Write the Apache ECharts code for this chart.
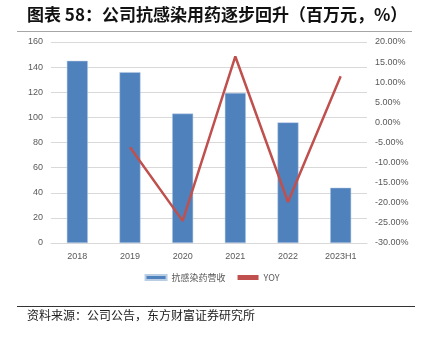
<!DOCTYPE html>
<html>
<head>
<meta charset="utf-8">
<script src="https://cdn.jsdelivr.net/npm/echarts@6/dist/echarts.min.js"></script>
<style>
html,body{margin:0;padding:0;background:#fff;}
#chart{width:424px;height:338px;}
</style>
</head>
<body>
<div id="chart"></div>
<script>
// 抗感染药营收（百万元）与同比增速（%）
const years = ['2018', '2019', '2020', '2021', '2022', '2023H1'];
const revenue = [145, 136, 103, 119.5, 96, 44];
const yoy = [null, -6.2, -24.5, 16.4, -19.8, 11.5];
const leftTicks = { min: 0, max: 160, interval: 20 };
const rightTicks = { min: -30, max: 20, interval: 5 };

const chart = echarts.init(document.getElementById('chart'));
const labelFont = { color: '#595959', fontSize: 9, fontFamily: 'Liberation Sans, Arial, sans-serif' };

chart.setOption({
  animation: false,
  backgroundColor: '#fff',
  graphic: [
    { type: 'text', left: 27, top: 6,
      style: { text: '图表 58：公司抗感染用药逐步回升（百万元，%）', fill: '#111',
               font: 'bold 17px "Noto Sans CJK SC", sans-serif' } },
    { type: 'line', shape: { x1: 17, y1: 31.5, x2: 412, y2: 31.5 },
      style: { stroke: '#a6a6a6', lineWidth: 1 } },
    { type: 'line', shape: { x1: 17, y1: 306.5, x2: 415, y2: 306.5 },
      style: { stroke: '#333', lineWidth: 1 } },
    { type: 'text', left: 27, top: 309,
      style: { text: '资料来源：公司公告，东方财富证券研究所', fill: '#222',
               font: '12px "Noto Sans CJK SC", sans-serif' } }
  ],
  legend: {
    bottom: 51, left: 'center', itemGap: 12, itemWidth: 21, itemHeight: 5,
    textStyle: { color: '#595959', fontSize: 9, fontFamily: '"Noto Sans CJK SC", sans-serif' },
    data: [
      { name: '抗感染药营收', icon: 'rect' },
      { name: 'YOY', icon: 'rect', itemStyle: { color: '#c0504d' } }
    ]
  },
  grid: { left: 51, right: 57, top: 42, bottom: 95 },
  xAxis: {
    type: 'category', data: years,
    axisLine: { lineStyle: { color: '#d9d9d9' } },
    axisTick: { show: false },
    axisLabel: Object.assign({ margin: 9 }, labelFont)
  },
  yAxis: [
    {
      type: 'value', min: leftTicks.min, max: leftTicks.max, interval: leftTicks.interval,
      axisLabel: Object.assign({ margin: 8 }, labelFont),
      axisLine: { show: false }, axisTick: { show: false },
      splitLine: { lineStyle: { color: '#d9d9d9', width: 1 } }
    },
    {
      type: 'value', min: rightTicks.min, max: rightTicks.max, interval: rightTicks.interval,
      axisLabel: Object.assign({ margin: 8, formatter: v => v.toFixed(2) + '%' }, labelFont),
      axisLine: { show: false }, axisTick: { show: false },
      splitLine: { show: false }
    }
  ],
  series: [
    {
      name: '抗感染药营收', type: 'bar', data: revenue, barWidth: 21,
      itemStyle: { color: '#4f81bd', borderColor: '#b9cde5', borderWidth: 0.5 }
    },
    {
      name: 'YOY', type: 'line', yAxisIndex: 1, data: yoy,
      symbol: 'none', lineStyle: { color: '#c0504d', width: 2.5 },
      itemStyle: { color: '#c0504d' }
    }
  ]
});
</script>
</body>
</html>
